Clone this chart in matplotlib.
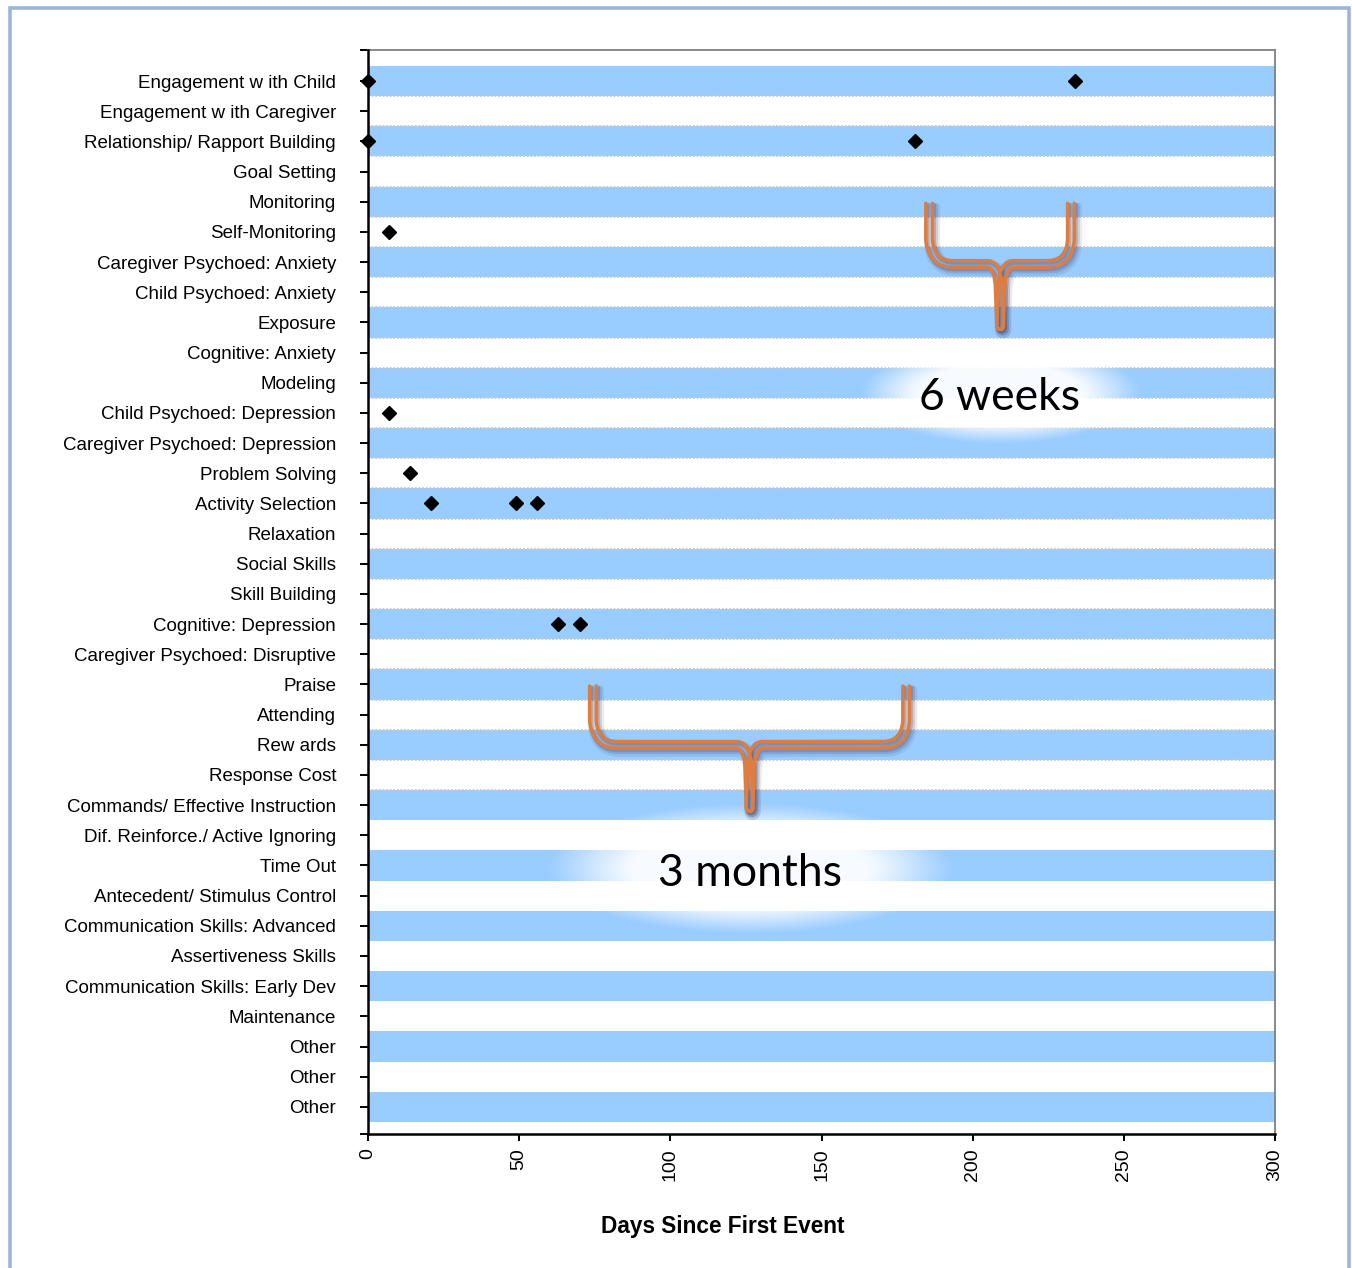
import numpy as np
import matplotlib
matplotlib.use('Agg')
import matplotlib.pyplot as plt
from matplotlib.patches import Rectangle

plt.rcParams['font.family'] = ['Liberation Sans', 'DejaVu Sans']

# --- data -------------------------------------------------------------
categories = [
    'Engagement w ith Child', 'Engagement w ith Caregiver',
    'Relationship/ Rapport Building', 'Goal Setting', 'Monitoring',
    'Self-Monitoring', 'Caregiver Psychoed: Anxiety',
    'Child Psychoed: Anxiety', 'Exposure', 'Cognitive: Anxiety', 'Modeling',
    'Child Psychoed: Depression', 'Caregiver Psychoed: Depression',
    'Problem Solving', 'Activity Selection', 'Relaxation', 'Social Skills',
    'Skill Building', 'Cognitive: Depression',
    'Caregiver Psychoed: Disruptive', 'Praise', 'Attending', 'Rew ards',
    'Response Cost', 'Commands/ Effective Instruction',
    'Dif. Reinforce./ Active Ignoring', 'Time Out',
    'Antecedent/ Stimulus Control', 'Communication Skills: Advanced',
    'Assertiveness Skills', 'Communication Skills: Early Dev', 'Maintenance',
    'Other', 'Other', 'Other',
]

event_categories = [
    'Engagement w ith Child', 'Engagement w ith Child',
    'Relationship/ Rapport Building', 'Relationship/ Rapport Building',
    'Self-Monitoring', 'Child Psychoed: Depression', 'Problem Solving',
    'Activity Selection', 'Activity Selection', 'Activity Selection',
    'Cognitive: Depression', 'Cognitive: Depression',
]
event_days = [0, 234, 0, 181, 7, 7, 14, 21, 49, 56, 63, 70]

x_ticks = [0, 50, 100, 150, 200, 250, 300]
x_label = 'Days Since First Event'

# interval call-outs: label, left day, right day
spans = [('6 weeks', 185.6, 232.5), ('3 months', 74.4, 178.0)]

# --- styling ----------------------------------------------------------
BLUE = '#99CCFF'
ORANGE = '#E07C3E'
FRAME = '#9AB7D9'

W, H = 1352, 1268
fig = plt.figure(figsize=(W / 100, H / 100), dpi=100)
ax = fig.add_axes([368 / W, 1 - 1134 / H, (1275 - 368) / W, (1134 - 50) / H])

n = len(categories)
rows = np.arange(1, n + 1)
row_of = {}
for r, c in zip(rows, categories):
    row_of.setdefault(c, r)

xmin, xmax = x_ticks[0], x_ticks[-1]
ytop_lim, ybot_lim = -0.03, n + 0.9

# alternating bands
band_rows = rows[::2]
ax.barh(band_rows, [xmax - xmin] * len(band_rows), left=xmin, height=1.0,
        color=BLUE, zorder=1)

# dotted row separators (upper part only, as in the original)
for b in np.arange(1.5, 25.0, 1.0):
    ax.axhline(b, color='#C8C8C8', lw=1.3, ls=(0, (1, 1)), zorder=1.5)

ax.set_xlim(xmin, xmax)
ax.set_ylim(ybot_lim, ytop_lim)

# events
ev_rows = [row_of[c] for c in event_categories]
ax.plot(event_days, ev_rows, ls='none', marker='D', ms=7.5, color='black',
        zorder=6, clip_on=False)


def glow(xc, yc, hw, hh):
    xs = np.linspace(-1, 1, 240)
    ys = np.linspace(-1, 1, 120)
    X, Y = np.meshgrid(xs, ys)
    a = np.clip(1.5 * (1 - (X ** 2 + Y ** 2)), 0, 1) ** 1.2 * 0.93
    img = np.ones((len(ys), len(xs), 4))
    img[..., 3] = a
    ax.imshow(img, extent=(xc - hw, xc + hw, yc + hh, yc - hh),
              aspect='auto', interpolation='bilinear', zorder=3)


def bez(a, c, b, k=24):
    t = np.linspace(0, 1, k)[:, None]
    return (1 - t) ** 2 * a + 2 * (1 - t) * t * c + t ** 2 * b


def seg(a, b, k=20):
    t = np.linspace(0, 1, k)[:, None]
    return (1 - t) * a + t * b


def bracket(xl, xr, ytop, ymid, ytip, d=3.3):
    T = ax.transData
    Xl, Yt = T.transform((xl, ytop))
    Xr, _ = T.transform((xr, ytop))
    Xc, Ym = T.transform(((xl + xr) / 2, ymid))
    _, Yb = T.transform(((xl + xr) / 2, ytip))
    r1, r2x, r2y = 24, 13, 30
    inv = T.inverted()
    for Xa, g in ((Xl, 1), (Xr, -1)):
        P = [seg(np.array([Xa, Yt]), np.array([Xa, Ym + r1])),
             bez(np.array([Xa, Ym + r1]), np.array([Xa + g * 2, Ym]),
                 np.array([Xa + g * r1, Ym])),
             seg(np.array([Xa + g * r1, Ym]), np.array([Xc - g * r2x, Ym]), 60),
             bez(np.array([Xc - g * r2x, Ym]), np.array([Xc - g * 1, Ym]),
                 np.array([Xc - g * 1, Ym - r2y])),
             seg(np.array([Xc - g * 1, Ym - r2y]), np.array([Xc, Yb]))]
        P = np.vstack(P)
        keep = np.r_[True, np.any(np.diff(P, axis=0) != 0, axis=1)]
        P = P[keep]
        tg = np.gradient(P, axis=0)
        tg /= np.linalg.norm(tg, axis=1)[:, None]
        nr = np.c_[-tg[:, 1], tg[:, 0]]
        A = P + d * nr
        B = P - d * nr
        th = np.linspace(0, np.pi, 15)[:, None]
        cap = P[-1] + d * (nr[-1] * np.cos(th) + tg[-1] * np.sin(th))
        outline = np.vstack([A, cap, B[::-1]])
        for off, lw, al in (((3.0, -4.0), 7.0, 0.10),
                            ((2.5, -3.0), 4.5, 0.16),
                            ((1.5, -2.0), 3.0, 0.22)):
            sh = inv.transform(outline + np.array(off))
            ax.plot(sh[:, 0], sh[:, 1], color='#404060', lw=lw, alpha=al,
                    solid_capstyle='round', zorder=4, clip_on=False)
        o = inv.transform(outline)
        ax.plot(o[:, 0], o[:, 1], color=ORANGE, lw=2.5,
                solid_capstyle='round', zorder=5, clip_on=False)


# call-outs
label_pos = {'6 weeks': (11.9, 5.05, 7.06, 9.12),
             '3 months': (27.67, 21.05, 23.0, 25.09)}
glow_size = {'6 weeks': (47, 1.7), '3 months': (68, 2.2)}
for txt, left, right in spans:
    base, ytop, ymid, ytip = label_pos[txt]
    xc = (left + right) / 2
    glow(xc, base - 0.55, *glow_size[txt])
    bracket(left, right, ytop, ymid, ytip)
    ax.text(xc, base, txt, fontsize=32, family=['Lato', 'DejaVu Sans'],
            ha='center', va='baseline', zorder=7)

ax.set_xlim(xmin, xmax)
ax.set_ylim(ybot_lim, ytop_lim)

# axes cosmetics
ax.set_yticks([ytop_lim] + list(rows) + [ybot_lim])
ax.set_yticklabels([''] + categories + [''])
ax.set_xticks(x_ticks)
ax.set_xticklabels([str(v) for v in x_ticks])
ax.tick_params(axis='y', length=6, width=1.4, pad=17, labelsize=13.5,
               direction='out', colors='black')
ax.tick_params(axis='x', length=5, width=1.4, pad=5, labelsize=14,
               labelrotation=90, direction='out')
for s in ('left', 'bottom'):
    ax.spines[s].set_color('black')
    ax.spines[s].set_linewidth(1.8)
    ax.spines[s].set_zorder(5)
for s in ('top', 'right'):
    ax.spines[s].set_color('#808080')
    ax.spines[s].set_linewidth(1.3)

fig.text(723 / W, 1 - 1226 / H, x_label, fontsize=16.3, fontweight='bold',
         ha='center', va='center')

# outer frame
fig.add_artist(Rectangle((10 / W, -0.05), (1349 - 10) / W, 1.05 - 8 / H,
                         transform=fig.transFigure, fill=False,
                         edgecolor=FRAME, lw=2.6))

fig.savefig('out.png', dpi=100, facecolor='white')
